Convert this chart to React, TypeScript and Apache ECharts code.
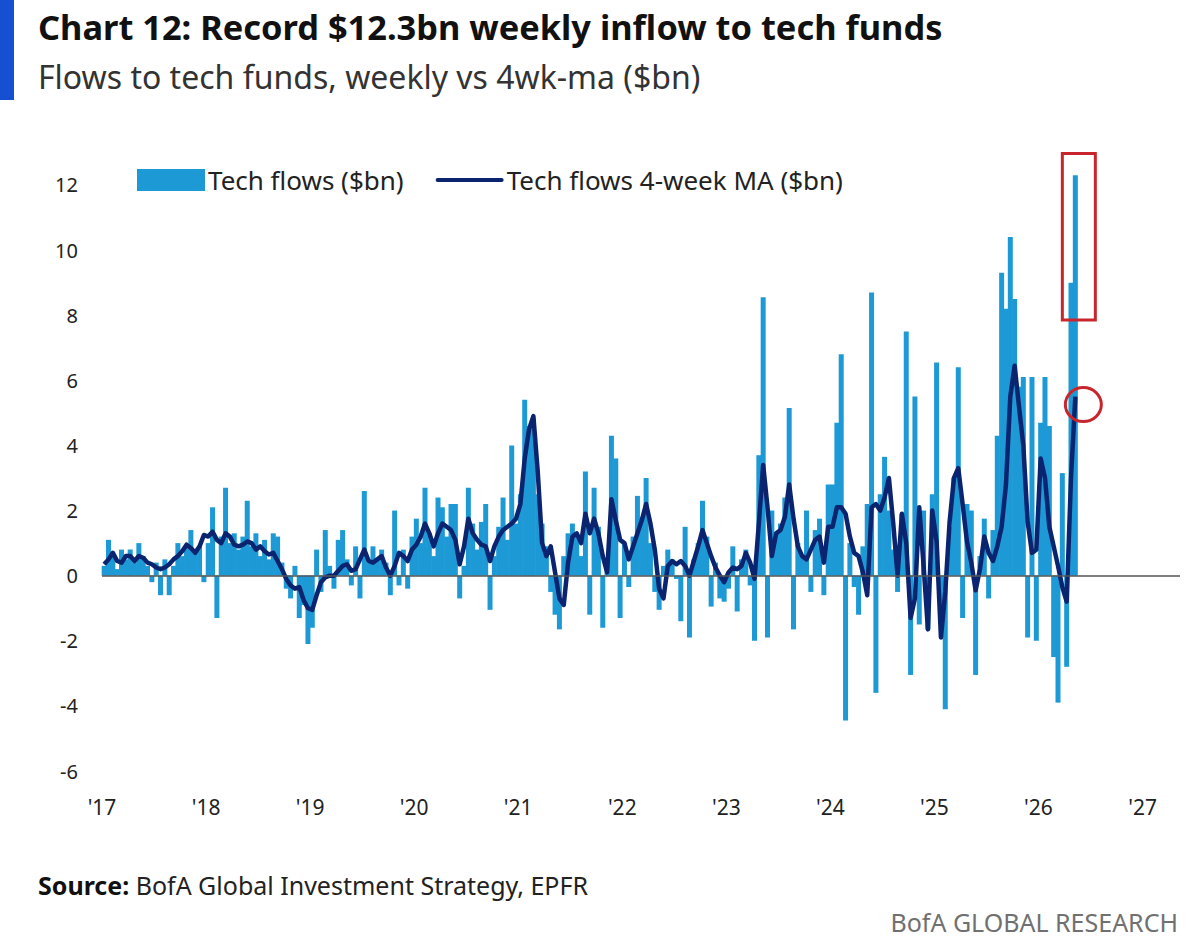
import React, { useEffect, useRef } from "react";
import * as echarts from "echarts";

// Semi-monthly readings (24 per year), $bn
const years = [2017, 2018, 2019, 2020, 2021, 2022, 2023, 2024, 2025, 2026];

const flows2017 = [0.3, 1.1, 0.6, 0.2, 0.8, 0.5, 0.8, 0.4, 1.0, 0.6, 0.3, -0.2, 0.4, -0.6, 0.5, -0.6, 0.3, 1.0, 0.6, 0.9, 1.4, 0.7, 0.9, -0.2];
const flows2018 = [1.0, 2.1, -1.3, 1.2, 2.7, 1.0, 1.3, 0.8, 1.2, 2.3, 0.9, 1.3, 0.6, 1.1, 0.5, 1.3, 1.2, 0.4, -0.4, -0.7, 0.3, -1.3, -0.9, -2.1];
const flows2019 = [-1.6, 0.8, -0.5, 1.4, 0.3, -0.4, 1.1, 1.4, 0.5, -0.3, 0.9, -0.7, 2.6, 0.4, 0.9, 0.5, 0.8, 0.4, -0.6, 2.0, -0.3, 0.8, -0.4, 1.2];
const flows2020 = [1.75, 1.0, 2.7, 1.3, 0.6, 2.4, 2.1, 1.2, 2.2, 2.2, -0.7, 0.3, 2.7, 1.6, 0.8, 1.65, 2.2, -1.05, 0.6, 1.5, 2.4, 1.1, 4.0, 1.6];
const flows2021 = [2.5, 5.4, 4.6, 4.8, 2.5, 1.6, 0.9, -0.5, -1.2, -1.65, 0.6, 1.3, 1.6, 1.2, 0.6, 3.2, -1.2, 2.7, 1.5, -1.6, 0.5, 4.3, 3.6, -1.3];
const flows2022 = [1.0, -0.35, 1.2, 2.45, 1.8, 3.0, 1.0, -0.5, -1.05, 0.3, 0.8, 0.5, -0.1, -1.4, 1.5, -1.9, 0.5, 1.0, 2.3, 1.2, -0.95, 0.4, -0.7, -0.8];
const flows2023 = [-0.4, 0.9, -1.1, 0.5, 0.8, -0.3, -2.0, 3.7, 8.55, -1.9, 2.0, 1.3, 1.6, 2.4, 5.15, -1.65, 1.0, 0.6, 2.0, -0.5, 1.4, 1.75, -0.6, 2.8];
const flows2024 = [2.8, 4.7, 6.8, -4.45, 1.0, -0.35, -1.2, 0.9, 2.2, 8.7, -3.6, 2.5, 3.65, 2.0, 0.8, -0.5, 1.9, 7.5, -3.05, 5.5, -1.5, 2.0, -1.65, 2.5];
const flows2025 = [6.55, -1.2, -4.1, 1.5, 3.0, 6.4, -1.3, 2.2, 2.0, -3.05, 0.6, 1.75, -0.7, 1.4, 4.3, 9.3, 8.2, 10.4, 8.5, 5.8, 6.1, -1.9, 6.1, -2.0];
const flows2026 = [4.7, 6.1, 4.6, -2.5, -3.9, 3.15, -2.8, 9.0, 12.3];

const ma2017 = [0.35, 0.5, 0.7, 0.45, 0.4, 0.6, 0.6, 0.45, 0.6, 0.55, 0.4, 0.35, 0.25, 0.2, 0.25, 0.35, 0.5, 0.6, 0.75, 0.95, 0.85, 0.7, 0.9, 1.25];
const ma2018 = [1.2, 1.35, 1.1, 1.0, 1.3, 1.2, 0.95, 0.9, 0.95, 1.05, 1.0, 0.8, 0.9, 0.75, 0.65, 0.7, 0.45, 0.2, -0.1, -0.3, -0.4, -0.35, -0.75, -1.0];
const ma2019 = [-1.05, -0.6, -0.2, -0.05, 0.0, 0.0, 0.15, 0.3, 0.35, 0.15, 0.2, 0.5, 0.8, 0.45, 0.4, 0.5, 0.6, 0.25, 0.0, 0.3, 0.7, 0.6, 0.45, 0.8];
const ma2020 = [0.95, 1.2, 1.6, 1.3, 0.9, 1.3, 1.6, 1.5, 1.4, 1.1, 0.35, 0.9, 1.75, 1.3, 1.1, 0.95, 0.9, 0.45, 0.9, 1.2, 1.4, 1.5, 1.6, 1.75];
const ma2021 = [2.2, 3.6, 4.5, 4.9, 3.2, 1.0, 0.6, 0.9, 0.1, -0.7, -0.9, 0.4, 1.2, 1.3, 1.0, 1.9, 1.3, 1.75, 1.3, 0.6, 0.1, 2.35, 1.7, 1.1];
const ma2022 = [1.0, 0.5, 0.9, 1.3, 1.7, 2.2, 1.6, 0.8, -0.4, -0.7, 0.3, 0.45, 0.35, 0.45, 0.3, 0.0, 0.45, 0.9, 1.4, 1.0, 0.6, 0.25, 0.0, -0.2];
const ma2023 = [0.1, 0.25, 0.2, 0.3, 0.7, 0.4, -0.1, 1.6, 3.4, 2.1, 0.6, 1.3, 1.4, 1.8, 2.8, 1.75, 0.9, 0.6, 0.5, 0.8, 1.1, 1.2, 0.4, 1.5];
const ma2024 = [1.5, 2.1, 2.1, 1.9, 1.2, 0.7, 0.6, 0.1, -0.6, 2.1, 2.2, 2.0, 2.4, 3.0, 1.6, 0.0, 1.9, 1.0, -1.3, -0.7, 2.1, 0.3, -1.65, 2.0];
const ma2025 = [1.05, -1.9, -0.5, 1.65, 3.0, 3.3, 2.2, 1.05, 0.4, -0.45, 0.2, 1.2, 0.7, 0.45, 0.9, 1.5, 2.8, 5.5, 6.45, 5.2, 4.0, 1.65, 0.7, 0.8];
const ma2026 = [3.6, 3.0, 1.5, 0.9, 0.3, -0.35, -0.8, 3.0, 5.5];

const yTicks = { min: -6, max: 13, interval: 2 };
const xTicks = { min: 2017, max: 2027.36, interval: 1 };

const flowsByYear = [flows2017, flows2018, flows2019, flows2020, flows2021, flows2022, flows2023, flows2024, flows2025, flows2026];
const maByYear = [ma2017, ma2018, ma2019, ma2020, ma2021, ma2022, ma2023, ma2024, ma2025, ma2026];

const PER_YEAR = 24;
const toSeries = (byYear: number[][]) =>
  years.flatMap((y, k) => byYear[k].map((v, j) => [y + (j + 0.5) / PER_YEAR, v]));

const flowsData = toSeries(flowsByYear);
const maData = toSeries(maByYear);

const FONT = '"Noto Sans", "Open Sans", sans-serif';
const BAR_COLOR = "#1d9ad6";
const LINE_COLOR = "#0b2470";
const RED = "#c8262c";

function buildOption(extraGraphic: any[]) {
  return {
    animation: false,
    backgroundColor: "#ffffff",
    grid: { left: 102, right: 6, top: 152.4, bottom: 174 },
    legend: {
      left: 137,
      top: 167,
      padding: 0,
      itemWidth: 68,
      itemHeight: 22,
      itemGap: 32,
      textStyle: { fontSize: 26, color: "#222", fontFamily: FONT, padding: [0, 0, 0, -2] },
      data: [
        { name: "Tech flows ($bn)", icon: "rect" },
        { name: "Tech flows 4-week MA ($bn)", icon: "path://M2,0 L66,0 A2,2 0 0 1 66,4 L2,4 A2,2 0 0 1 2,0 Z" },
      ],
    },
    xAxis: {
      type: "value",
      min: xTicks.min,
      max: xTicks.max,
      interval: xTicks.interval,
      axisLine: { show: false },
      axisTick: { show: false },
      splitLine: { show: false },
      axisLabel: {
        showMaxLabel: false,
        margin: 25,
        fontSize: 21,
        color: "#222",
        fontFamily: FONT,
        formatter: (v: number) => (Number.isInteger(v) ? "'" + String(v).slice(2) : ""),
      },
    },
    yAxis: {
      type: "value",
      min: yTicks.min,
      max: yTicks.max,
      interval: yTicks.interval,
      axisLine: { show: false },
      axisTick: { show: false },
      splitLine: { show: false },
      axisLabel: {
        showMaxLabel: false,
        margin: 24,
        fontSize: 20,
        color: "#222",
        fontFamily: FONT,
        formatter: (v: number) => (v % 2 === 0 ? String(v) : ""),
      },
    },
    series: [
      {
        name: "Tech flows ($bn)",
        type: "bar",
        data: flowsData,
        barWidth: 5,
        itemStyle: { color: BAR_COLOR },
        markLine: {
          silent: true,
          symbol: "none",
          label: { show: false },
          lineStyle: { color: "#555", width: 1.6, type: "solid" },
          data: [{ yAxis: 0 }],
        },
        z: 2,
      },
      {
        name: "Tech flows 4-week MA ($bn)",
        type: "line",
        data: maData,
        symbol: "none",
        lineStyle: { color: LINE_COLOR, width: 4.5, join: "round" },
        itemStyle: { color: LINE_COLOR },
        z: 4,
      },
    ],
    graphic: [
      { type: "rect", id: "accent", shape: { x: 0, y: 0, width: 14, height: 100 }, style: { fill: "#1450cf" } },
      {
        type: "text",
        id: "title",
        x: 38,
        y: 26,
        style: { text: "Chart 12: Record $12.3bn weekly inflow to tech funds", fill: "#111", fontSize: 34.4, fontWeight: "bold", fontFamily: FONT, verticalAlign: "middle" },
      },
      {
        type: "text",
        id: "subtitle",
        x: 38,
        y: 76,
        style: { text: "Flows to tech funds, weekly vs 4wk-ma ($bn)", fill: "#333", fontSize: 32, fontFamily: FONT, verticalAlign: "middle" },
      },
      {
        type: "text",
        id: "source",
        x: 38,
        y: 885,
        style: {
          text: "{b|Source:} BofA Global Investment Strategy, EPFR",
          fill: "#222",
          fontSize: 25,
          fontFamily: FONT,
          verticalAlign: "middle",
          rich: { b: { fontWeight: "bold", fontSize: 25, fontFamily: FONT, fill: "#111" } },
        },
      },
      {
        type: "text",
        id: "brand",
        x: 1178,
        y: 922,
        style: { text: "BofA GLOBAL RESEARCH", fill: "#707070", fontSize: 25, fontFamily: FONT, align: "right", verticalAlign: "middle" },
      },
      ...extraGraphic,
    ],
  };
}

export default function App() {
  const ref = useRef<HTMLDivElement>(null);
  useEffect(() => {
    if (!ref.current) return;
    const chart = echarts.init(ref.current, null, { renderer: "svg" });
    chart.setOption(buildOption([]));
    const lastFlow = flowsData[flowsData.length - 1];
    const lastMA = maData[maData.length - 1];
    const boxTop = chart.convertToPixel({ gridIndex: 0 }, [lastFlow[0], 13]) as number[];
    const boxBottom = chart.convertToPixel({ gridIndex: 0 }, [lastFlow[0], 7.85]) as number[];
    const maPt = chart.convertToPixel({ gridIndex: 0 }, lastMA) as number[];
    const extra = [
      {
        type: "rect",
        id: "recordBox",
        z: 10,
        shape: { x: boxTop[0] - 13, y: boxTop[1] + 1, width: 33, height: boxBottom[1] - boxTop[1] - 1 },
        style: { fill: "none", stroke: RED, lineWidth: 3 },
      },
      {
        type: "ellipse",
        id: "maCircle",
        z: 10,
        shape: { cx: maPt[0] + 8, cy: maPt[1] + 8, rx: 18, ry: 17 },
        style: { fill: "none", stroke: RED, lineWidth: 3 },
      },
    ];
    chart.setOption(buildOption(extra), { notMerge: true });
    return () => chart.dispose();
  }, []);
  return <div ref={ref} style={{ position: "fixed", left: 0, top: 0, width: 1186, height: 945 }} />;
}
